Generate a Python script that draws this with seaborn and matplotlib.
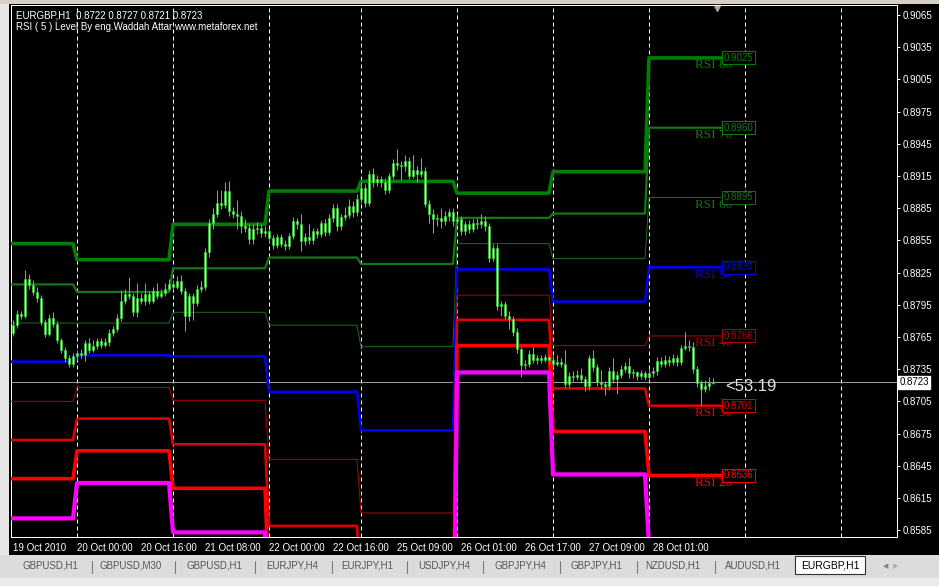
import matplotlib
matplotlib.use("Agg")
import matplotlib.pyplot as plt
import numpy as np
import pandas as pd
import seaborn as sns
from matplotlib.patches import Rectangle
from matplotlib.lines import Line2D

sns.set_style("dark")
plt.rcParams["font.family"] = ["Liberation Sans", "DejaVu Sans"]

# EURGBP H1 bars (bar 0 = 19 Oct 08:00)
first_open = 0.8769
closes = [
    0.8776, 0.8786, 0.8785, 0.8819, 0.8813, 0.8807, 0.8801, 0.8779, 0.8768, 0.8783,
    0.8777, 0.8762, 0.8753, 0.8745, 0.8740, 0.8747, 0.8750, 0.8748, 0.8759, 0.8753,
    0.8757, 0.8761, 0.8758, 0.8760, 0.8769, 0.8772, 0.8783, 0.8799, 0.8805, 0.8803,
    0.8788, 0.8801, 0.8799, 0.8805, 0.8799, 0.8808, 0.8803, 0.8806, 0.8810, 0.8814,
    0.8812, 0.8817, 0.8808, 0.8785, 0.8803, 0.8797, 0.8810, 0.8812, 0.8844, 0.8871,
    0.8880, 0.8890, 0.8888, 0.8901, 0.8882, 0.8880, 0.8878, 0.8868, 0.8867, 0.8856,
    0.8866, 0.8867, 0.8862, 0.8864, 0.8857, 0.8851, 0.8858, 0.8852, 0.8850, 0.8859,
    0.8873, 0.8870, 0.8854, 0.8858, 0.8855, 0.8864, 0.8861, 0.8871, 0.8863, 0.8876,
    0.8885, 0.8868, 0.8877, 0.8879, 0.8887, 0.8881, 0.8894, 0.8904, 0.8890, 0.8917,
    0.8909, 0.8912, 0.8909, 0.8902, 0.8915, 0.8927, 0.8925, 0.8924, 0.8929, 0.8915,
    0.8921, 0.8917, 0.8920, 0.8889, 0.8880, 0.8875, 0.8876, 0.8873, 0.8878, 0.8881,
    0.8873, 0.8875, 0.8864, 0.8870, 0.8866, 0.8871, 0.8870, 0.8873, 0.8868, 0.8839,
    0.8848, 0.8794, 0.8796, 0.8785, 0.8782, 0.8770, 0.8754, 0.8739, 0.8740, 0.8749,
    0.8744, 0.8745, 0.8744, 0.8746, 0.8744, 0.8740, 0.8742, 0.8740, 0.8721, 0.8729,
    0.8728, 0.8730, 0.8726, 0.8719, 0.8745, 0.8737, 0.8723, 0.8721, 0.8719, 0.8733,
    0.8726, 0.8730, 0.8735, 0.8738, 0.8731, 0.8732, 0.8729, 0.8731, 0.8728, 0.8731,
    0.8733, 0.8743, 0.8740, 0.8744, 0.8742, 0.8745, 0.8742, 0.8755, 0.8757, 0.8756,
    0.8735, 0.8722, 0.8717, 0.8719, 0.8722, 0.8723,
]
highs = [
    0.8781, 0.8790, 0.8789, 0.8827, 0.8824, 0.8818, 0.8812, 0.8804, 0.8782, 0.8786,
    0.8788, 0.8780, 0.8764, 0.8756, 0.8748, 0.8750, 0.8753, 0.8754, 0.8762, 0.8764,
    0.8762, 0.8764, 0.8764, 0.8764, 0.8772, 0.8775, 0.8786, 0.8809, 0.8810, 0.8821,
    0.8806, 0.8815, 0.8806, 0.8815, 0.8808, 0.8812, 0.8815, 0.8810, 0.8815, 0.8819,
    0.8818, 0.8822, 0.8823, 0.8811, 0.8806, 0.8806, 0.8813, 0.8817, 0.8848, 0.8875,
    0.8885, 0.8902, 0.8902, 0.8909, 0.8910, 0.8886, 0.8893, 0.8882, 0.8875, 0.8870,
    0.8870, 0.8872, 0.8870, 0.8868, 0.8866, 0.8860, 0.8861, 0.8861, 0.8855, 0.8862,
    0.8877, 0.8876, 0.8880, 0.8862, 0.8870, 0.8867, 0.8867, 0.8874, 0.8875, 0.8880,
    0.8889, 0.8889, 0.8880, 0.8886, 0.8894, 0.8892, 0.8898, 0.8909, 0.8908, 0.8921,
    0.8922, 0.8916, 0.8915, 0.8913, 0.8918, 0.8931, 0.8940, 0.8929, 0.8935, 0.8933,
    0.8935, 0.8924, 0.8932, 0.8923, 0.8893, 0.8884, 0.8880, 0.8885, 0.8882, 0.8884,
    0.8885, 0.8880, 0.8878, 0.8873, 0.8874, 0.8875, 0.8876, 0.8880, 0.8878, 0.8871,
    0.8852, 0.8852, 0.8799, 0.8799, 0.8789, 0.8785, 0.8773, 0.8756, 0.8744, 0.8753,
    0.8756, 0.8748, 0.8748, 0.8749, 0.8748, 0.8747, 0.8748, 0.8745, 0.8753, 0.8732,
    0.8733, 0.8734, 0.8736, 0.8729, 0.8748, 0.8753, 0.8740, 0.8734, 0.8724, 0.8737,
    0.8745, 0.8733, 0.8739, 0.8742, 0.8745, 0.8735, 0.8733, 0.8734, 0.8733, 0.8735,
    0.8737, 0.8746, 0.8746, 0.8748, 0.8747, 0.8749, 0.8748, 0.8758, 0.8770, 0.8762,
    0.8760, 0.8738, 0.8725, 0.8725, 0.8728, 0.8727,
]
lows = [
    0.8766, 0.8773, 0.8782, 0.8783, 0.8810, 0.8804, 0.8798, 0.8776, 0.8765, 0.8766,
    0.8774, 0.8759, 0.8750, 0.8742, 0.8737, 0.8737, 0.8744, 0.8745, 0.8743, 0.8750,
    0.8751, 0.8754, 0.8755, 0.8756, 0.8757, 0.8766, 0.8770, 0.8780, 0.8796, 0.8800,
    0.8785, 0.8784, 0.8796, 0.8795, 0.8796, 0.8797, 0.8800, 0.8801, 0.8803, 0.8808,
    0.8809, 0.8810, 0.8805, 0.8771, 0.8780, 0.8781, 0.8794, 0.8807, 0.8809, 0.8840,
    0.8866, 0.8877, 0.8884, 0.8885, 0.8878, 0.8876, 0.8866, 0.8862, 0.8863, 0.8852,
    0.8852, 0.8861, 0.8858, 0.8858, 0.8853, 0.8847, 0.8848, 0.8849, 0.8846, 0.8847,
    0.8856, 0.8866, 0.8845, 0.8851, 0.8852, 0.8852, 0.8857, 0.8858, 0.8859, 0.8860,
    0.8872, 0.8864, 0.8865, 0.8874, 0.8876, 0.8877, 0.8878, 0.8890, 0.8886, 0.8887,
    0.8905, 0.8906, 0.8905, 0.8898, 0.8899, 0.8912, 0.8921, 0.8911, 0.8920, 0.8912,
    0.8913, 0.8909, 0.8914, 0.8886, 0.8871, 0.8862, 0.8868, 0.8867, 0.8869, 0.8873,
    0.8868, 0.8870, 0.8860, 0.8860, 0.8862, 0.8863, 0.8866, 0.8867, 0.8864, 0.8835,
    0.8836, 0.8790, 0.8785, 0.8782, 0.8772, 0.8766, 0.8750, 0.8728, 0.8735, 0.8737,
    0.8741, 0.8740, 0.8741, 0.8742, 0.8740, 0.8737, 0.8738, 0.8737, 0.8718, 0.8718,
    0.8724, 0.8725, 0.8722, 0.8715, 0.8716, 0.8733, 0.8719, 0.8717, 0.8711, 0.8716,
    0.8722, 0.8712, 0.8727, 0.8732, 0.8727, 0.8727, 0.8725, 0.8726, 0.8725, 0.8725,
    0.8728, 0.8730, 0.8737, 0.8737, 0.8738, 0.8739, 0.8738, 0.8739, 0.8753, 0.8752,
    0.8731, 0.8718, 0.8702, 0.8714, 0.8716, 0.8721,
]

# daily RSI(5) price levels, one value per day: 19,20,21,22,25,26,27,28 Oct
day_start_bar = [-1, 16, 40, 64, 87, 111, 135, 159]
last_bar = 178
rsi80 = [0.8852, 0.8837, 0.8870, 0.8901, 0.8910, 0.8899, 0.8919, 0.9025]
rsi70 = [0.8814, 0.8807, 0.8829, 0.8839, 0.8833, 0.8876, 0.8880, 0.8960]
rsi60 = [0.8778, 0.8778, 0.8788, 0.8776, 0.8756, 0.8852, 0.8838, 0.8895]
rsi50 = [0.8742, 0.8748, 0.8747, 0.8714, 0.8678, 0.8828, 0.8798, 0.8830]
rsi40 = [0.8705, 0.8718, 0.8706, 0.8651, 0.8601, 0.8804, 0.8757, 0.8766]
rsi30 = [0.8669, 0.8689, 0.8665, 0.8589, 0.8524, 0.8781, 0.8717, 0.8701]
rsi20 = [0.8633, 0.8659, 0.8624, 0.8526, 0.8447, 0.8757, 0.8677, 0.8636]
rsi10 = [0.8596, 0.8629, 0.8583, 0.8464, 0.8370, 0.8732, 0.8637, 0.8571]

price_ticks = [0.9065, 0.9035, 0.9005, 0.8975, 0.8945, 0.8915, 0.8885, 0.8855, 0.8825,
               0.8795, 0.8765, 0.8735, 0.8705, 0.8675, 0.8645, 0.8615, 0.8585]
time_tick_bars = [0, 16, 32, 48, 64, 80, 96, 112, 128, 144, 160]
time_tick_labels = ["19 Oct 2010", "20 Oct 00:00", "20 Oct 16:00", "21 Oct 08:00",
                    "22 Oct 00:00", "22 Oct 16:00", "25 Oct 09:00", "26 Oct 01:00",
                    "26 Oct 17:00", "27 Oct 09:00", "28 Oct 01:00"]
separator_bars = [16, 40, 64, 87, 111, 135, 159, 183, 207]
last_price = 0.8723
rsi_now = "<53.19"
header = ["EURGBP,H1  0.8722 0.8727 0.8721 0.8723",
          "RSI ( 5 ) Level By eng.Waddah Attar www.metaforex.net"]
tabs = ["GBPUSD,H1", "GBPUSD,M30", "GBPUSD,H1", "EURJPY,H4", "EURJPY,H1",
        "USDJPY,H4", "GBPJPY,H4", "GBPJPY,H1", "NZDUSD,H1", "AUDUSD,H1"]
active_tab = "EURGBP,H1"

W, H = 939, 586
PX = 0.72                 # points per pixel at dpi 100
ppx = 0.003 / 32.2        # price per pixel on the screenshot

fig = plt.figure(figsize=(W / 100, H / 100), dpi=100, facecolor="black")
ax = fig.add_axes([11 / W, 49 / H, 886 / W, 532 / H])
ax.set_facecolor("black")
ax.grid(False)
ax.set_xlim(-0.5, 221)
ax.set_ylim(0.9065 - 522 * ppx, 0.9065 + 10 * ppx)

# period separators
for b in separator_bars:
    ax.axvline(b, color="white", lw=PX, ls=(0, (4, 3)), zorder=1)

# level lines, stepped per day
counts = np.diff(day_start_bar + [last_bar])
lv = pd.DataFrame({"bar": np.arange(day_start_bar[0], last_bar)})
styles = [("RSI 80", rsi80, "#008000", 3.6), ("RSI 70", rsi70, "#137a13", 2.2),
          ("RSI 60", rsi60, "#1c6c1c", 1.0), ("RSI 50", rsi50, "#0000f0", 2.6),
          ("RSI 40", rsi40, "#b00000", 1.0), ("RSI 30", rsi30, "#e00000", 2.6),
          ("RSI 20", rsi20, "#ff0000", 3.6), ("RSI 10", rsi10, "#ff00ff", 4.2)]
for name, vals, col, w in styles:
    lv[name] = np.repeat(vals, counts)
    sns.lineplot(data=lv, x="bar", y=name, ax=ax, color=col, linewidth=w * PX, zorder=3)

ax.axhline(last_price, color="#9c9c9c", lw=PX, zorder=2)

# candles
c = np.array(closes)
o = np.r_[first_open, c[:-1]]
bars = np.arange(len(c))
ax.vlines(bars, lows, highs, color="#3ed83e", lw=PX, zorder=4)
ax.bar(bars, np.maximum(np.abs(c - o), 0.00003), bottom=np.minimum(o, c), width=0.72,
       color="#b8f5ac", edgecolor="#2fc42f", linewidth=0.5, zorder=5)

# labels of the last day's levels
ylo = ax.get_ylim()[0]
for name, vals, col, w in styles:
    v = vals[-1]
    if v < ylo:
        continue
    ax.text(170.5, v - 1.5 * ppx, name, color=col, fontsize=9.5, family="Liberation Serif",
            va="top", ha="left", zorder=6)
    ax.text(177.7, v, f"{v:.4f}", color=col, fontsize=7, va="center", ha="left", zorder=7,
            bbox=dict(boxstyle="square,pad=0.15", fc="black", ec=col, lw=0.7))

ax.text(178, 0.9065 - 371 * ppx, rsi_now, color="#e4e4e4", fontsize=12, va="center",
        ha="left", zorder=7)
ax.plot([176], [0.9065 + 7 * ppx], marker="v", ms=5, color="#a8a8a8", clip_on=False)

# axes
ax.set_xlabel("")
ax.set_ylabel("")
ax.yaxis.tick_right()
ax.set_yticks(price_ticks)
ax.set_yticklabels([f"{t:.4f}" for t in price_ticks])
ax.set_xticks(time_tick_bars)
ax.set_xticklabels(time_tick_labels, ha="left")
ax.tick_params(axis="both", colors="white", length=3 * PX, width=PX, pad=2, labelsize=7,
               direction="out")
for s in ax.spines.values():
    s.set_color("white")
    s.set_linewidth(PX)
ax.text(1.0025, last_price, f"{last_price:.4f}", transform=ax.get_yaxis_transform(),
        fontsize=7, color="black", va="center", ha="left", zorder=8,
        bbox=dict(boxstyle="square,pad=0.15", fc="white", ec="white"))

for k, line in enumerate(header):
    fig.text(16 / W, 1 - (16 + 11 * k) / H, line, va="center", ha="left", fontsize=7,
             color="white")

# window chrome: left strip, top strip and the tab bar
fig.patches.append(Rectangle((0, 31 / H), 9 / W, 1, transform=fig.transFigure,
                             fc="#e6e6e6", ec="none"))
fig.patches.append(Rectangle((0, 1 - 4 / H), 1, 4 / H, transform=fig.transFigure,
                             fc="#d4d0c8", ec="none"))
fig.patches.append(Rectangle((0, 0), 1, 31 / H, transform=fig.transFigure,
                             fc="#dcdcdc", ec="none"))
fig.patches.append(Rectangle((0, 0), 1, 8 / H, transform=fig.transFigure,
                             fc="#ebebeb", ec="none"))
fig.patches.append(Rectangle((795 / W, 12 / H), 70 / W, 18 / H, transform=fig.transFigure,
                             fc="white", ec="#303030", lw=0.8))

tab_x = [50, 131, 214, 292, 367, 444, 520, 596, 673, 753]
sep_x = [92, 175, 255, 332, 407, 483, 560, 637, 715]
for tx, t in zip(tab_x, tabs):
    fig.text(tx / W, 1 - 566 / H, t, ha="center", va="center", fontsize=7, color="#555555")
for sx in sep_x:
    fig.lines.append(Line2D([sx / W, sx / W], [1 - 573 / H, 1 - 561 / H],
                            transform=fig.transFigure, color="#7a7a7a", lw=0.8))
fig.text(830 / W, 1 - 566 / H, active_tab, ha="center", va="center", fontsize=7.5,
         color="black")
fig.text(886 / W, 1 - 566 / H, "◀", ha="center", va="center", fontsize=5,
         color="#808080", family="DejaVu Sans")
fig.text(896 / W, 1 - 566 / H, "▶", ha="center", va="center", fontsize=5,
         color="#b0b0b0", family="DejaVu Sans")

fig.savefig("out.png", dpi=100, facecolor="black")
